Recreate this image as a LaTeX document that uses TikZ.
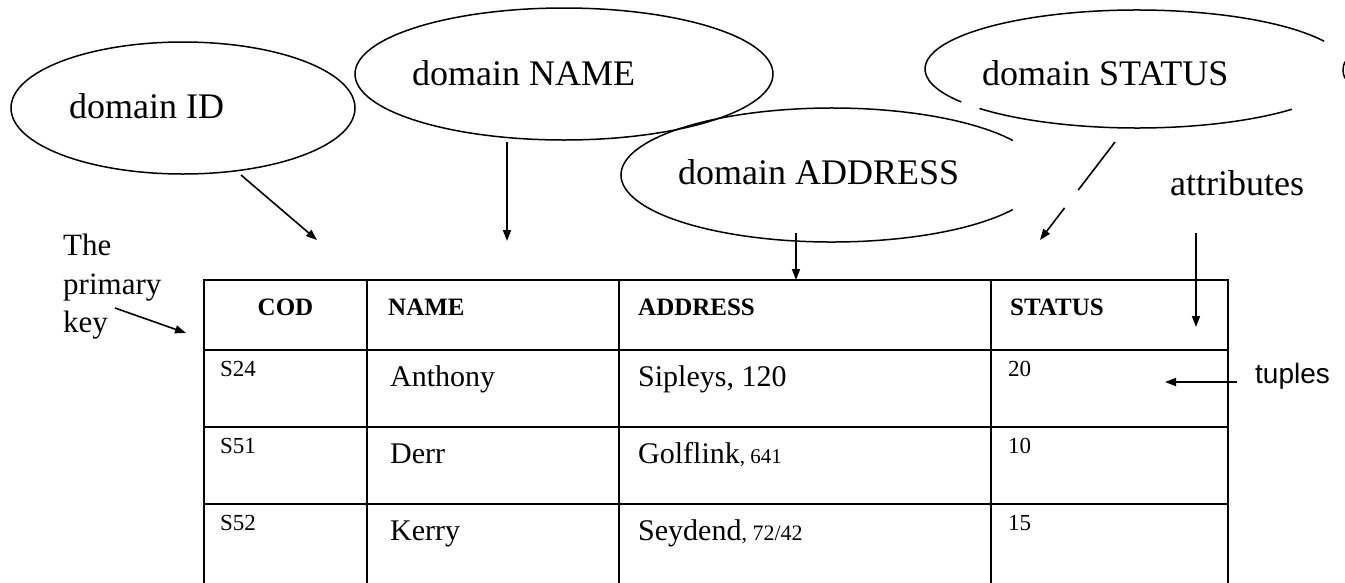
\documentclass[tikz,border=0pt]{standalone}
\usepackage{fontspec}
\setmainfont{Liberation Serif}
\newfontfamily\arialfont{Liberation Sans}
\usetikzlibrary{arrows.meta,shapes.geometric}
\begin{document}
\begin{tikzpicture}[x=1pt,y=-1pt,
  ell/.style={line width=1.5pt},
  dom/.style={ellipse,draw,line width=1.5pt,inner sep=0pt},
  arr/.style={line width=1.6pt,-{Triangle[length=11pt,width=8pt]}},
  tline/.style={line width=2.6pt},
  big/.style={font=\fontsize{36}{40}\selectfont,inner sep=0pt,anchor=base west},
  hdr/.style={font=\fontsize{25}{28}\bfseries\selectfont,inner sep=0pt,anchor=base west},
  cell/.style={font=\fontsize{30}{34}\selectfont,inner sep=0pt,anchor=base west},
  small/.style={font=\fontsize{23}{26}\selectfont,inner sep=0pt,anchor=base west}
]
\useasboundingbox (0,0) rectangle (1345,582);
\fill[white] (0,0) rectangle (1345,582);

% ellipses
\node[dom,minimum width=344pt,minimum height=132pt] (eid) at (183,108) {};
\node[dom,minimum width=418pt,minimum height=132pt] (ename) at (564,74) {};
\coordinate (eaddr) at (832,175);
\coordinate (estat) at (1137,69);
\draw[ell] ([shift={(31:211 and 67)}]eaddr) arc[start angle=31,end angle=329,x radius=211,y radius=67];
\draw[ell] ([shift={(-28:212 and 59)}]estat) arc[start angle=-28,end angle=-214,x radius=212,y radius=59];
\draw[ell] ([shift={(138:212 and 59)}]estat) arc[start angle=138,end angle=43,x radius=212,y radius=59];
\coordinate (eother) at (1543,70);
\draw[ell] ([shift={(188:200 and 60)}]eother) arc[start angle=188,end angle=172,x radius=200,y radius=60];

% ellipse labels
\node[big] (tid) at (69,118) {domain ID};
\node[big] (tname) at (412,85) {domain NAME};
\node[big] (taddr) at (678,184) {domain ADDRESS};
\node[big] (tstat) at (982,85) {domain STATUS};
\node[big] (tattr) at (1170,195) {attributes};
\node[font=\arialfont\fontsize{28}{31}\selectfont,inner sep=0pt,anchor=base west] (ttup) at (1255,383) {tuples};
\node[font=\fontsize{31}{38.5}\selectfont,inner sep=0pt,anchor=north west,align=left] (tpk) at (63,234) {The\\primary\\key};

% table
\draw[tline] (204,280) rectangle (1228,590);
\foreach \y in {350,427,504} \draw[tline] (204,\y) -- (1228,\y);
\foreach \x in {367,619,991} \draw[tline] (\x,280) -- (\x,590);

% header
\node[hdr,anchor=base] (hcod) at (285.5,315) {COD};
\node[hdr] (hname) at (388,315) {NAME};
\node[hdr] (haddr) at (638,315) {ADDRESS};
\node[hdr] (hstat) at (1010,315) {STATUS};

% rows
\node[small] (c11) at (220,376) {S24};
\node[cell] (c12) at (390,386) {Anthony};
\node[cell] (c13) at (638,386) {Sipleys, 120};
\node[small] (c14) at (1008,376) {20};

\node[small] (c21) at (220,453) {S51};
\node[cell] (c22) at (390,463) {Derr};
\node[cell] (c23) at (638,463) {Golflink{\fontsize{21}{24}\selectfont, 641}};
\node[small] (c24) at (1008,453) {10};

\node[small] (c31) at (220,530) {S52};
\node[cell] (c32) at (390,540) {Kerry};
\node[cell] (c33) at (638,540) {Seydend{\fontsize{22}{25}\selectfont, 72/42}};
\node[small] (c34) at (1008,530) {15};

% arrows
\coordinate (aid1) at (241,175);   \coordinate (aid2) at (317,240);
\coordinate (anm1) at (507,142);   \coordinate (anm2) at (507,241);
\coordinate (aad1) at (796,233);   \coordinate (aad2) at (796,280);
\coordinate (ast1) at (1115,142);  \coordinate (ast2) at (1040,240);
\coordinate (aat1) at (1196,233);  \coordinate (aat2) at (1196,327);
\coordinate (atu1) at (1237,382);  \coordinate (atu2) at (1165,382);
\coordinate (apk1) at (115,308);   \coordinate (apk2) at (186,333);
\draw[arr] (aid1) -- (aid2);
\draw[arr] (anm1) -- (anm2);
\draw[arr] (aad1) -- (aad2);
\draw[arr,dash pattern=on 60.5pt off 22.5pt on 80pt] (ast1) -- (ast2);
\draw[arr] (aat1) -- (aat2);
\draw[arr] (atu1) -- (atu2);
\draw[arr] (apk1) -- (apk2);
\end{tikzpicture}
\end{document}
